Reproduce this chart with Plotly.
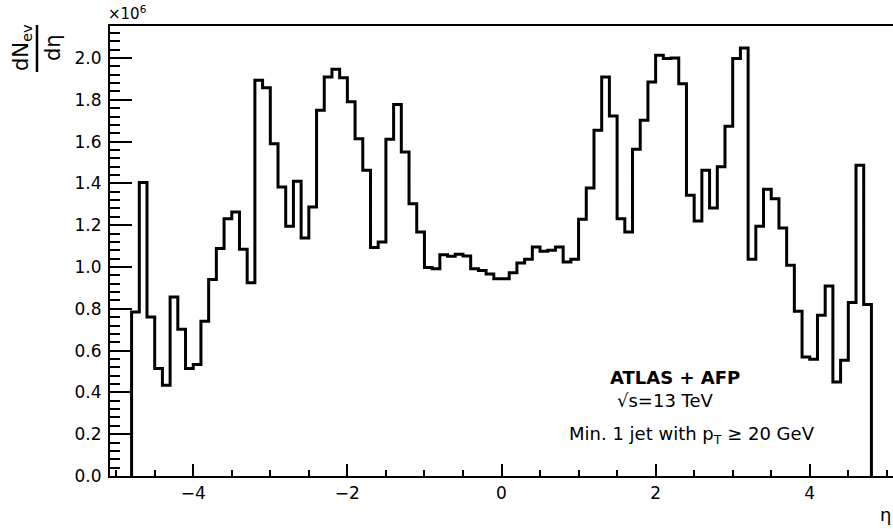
import numpy as np
import plotly.graph_objects as go

# --- data: dN_ev/deta in units of 1e6, 96 bins of width 0.1 from eta=-4.8 to 4.8
eta_low = -4.8
bin_width = 0.1
counts_1e6 = [
    0.785, 1.404, 0.761, 0.514, 0.434, 0.857, 0.702, 0.514, 0.533, 0.740,
    0.940, 1.088, 1.231, 1.263, 1.085, 0.925, 1.893, 1.858, 1.590, 1.383,
    1.195, 1.410, 1.139, 1.287, 1.750, 1.909, 1.946, 1.906, 1.790, 1.614,
    1.463, 1.093, 1.120, 1.611, 1.778, 1.550, 1.303, 1.168, 0.997, 0.992,
    1.059, 1.051, 1.061, 1.053, 0.992, 0.983, 0.967, 0.944, 0.944, 0.973,
    1.019, 1.037, 1.096, 1.075, 1.080, 1.096, 1.024, 1.037, 1.228, 1.378,
    1.654, 1.909, 1.722, 1.231, 1.168, 1.563, 1.702, 1.885, 2.013, 1.997,
    2.000, 1.877, 1.343, 1.220, 1.463, 1.282, 1.479, 1.673, 1.997, 2.048,
    1.037, 1.195, 1.372, 1.327, 1.187, 1.008, 0.788, 0.569, 0.558, 0.769,
    0.909, 0.450, 0.554, 0.830, 1.487, 0.820,
]
x_tick_vals = [-4, -2, 0, 2, 4]
y_tick_vals = [0.0, 0.2, 0.4, 0.6, 0.8, 1.0, 1.2, 1.4, 1.6, 1.8, 2.0]
label_lines = ["<b>ATLAS + AFP</b>", "√s=13 TeV", "Min. 1 jet with p<sub>T</sub> ≥ 20 GeV"]

n = len(counts_1e6)
edges = eta_low + bin_width * np.arange(n + 1)
xs = [edges[0]] + list(edges[:-1]) + [edges[-1], edges[-1]]
ys = [0.0] + list(counts_1e6) + [counts_1e6[-1], 0.0]

W, H = 893, 529
L, R, T, B = 110, 0, 26, 53
pw, ph = W - L - R, H - T - B

def px(x):
    return (x - L) / pw

def py(y):
    return (H - B - y) / ph

FONT = "DejaVu Sans"

fig = go.Figure()
fig.add_trace(go.Scatter(
    x=xs, y=ys, mode="lines", line=dict(shape="hv", color="black", width=3),
    showlegend=False, hoverinfo="skip",
))

fig.update_layout(
    width=W, height=H,
    margin=dict(l=L, r=R, t=T, b=B, pad=0),
    paper_bgcolor="white", plot_bgcolor="white",
    font=dict(family=FONT, color="black", size=17),
    xaxis=dict(
        range=[-5.08, 5.08], tickvals=x_tick_vals, ticktext=[str(v).replace("-", "−") for v in x_tick_vals],
        ticks="inside", ticklen=12, tickwidth=2, tickcolor="black",
        minor=dict(dtick=0.5, tick0=0, ticks="inside", ticklen=6, tickwidth=2, tickcolor="black"),
        showline=True, linewidth=2, linecolor="black", mirror=True,
        showgrid=False, zeroline=False, ticklabelstandoff=1,
        tickfont=dict(family=FONT, size=17),
    ),
    yaxis=dict(
        range=[0, 2.153], tickvals=y_tick_vals, ticktext=[f"{v:.1f}" for v in y_tick_vals],
        ticks="inside", ticklen=22, tickwidth=2, tickcolor="black",
        minor=dict(dtick=0.04, tick0=0, ticks="inside", ticklen=10, tickwidth=2, tickcolor="black"),
        showline=True, linewidth=2, linecolor="black", mirror=False,
        showgrid=False, zeroline=False, ticklabelstandoff=3,
        tickfont=dict(family=FONT, size=17),
    ),
)

annos = []
# x10^6 exponent
annos.append(dict(xref="paper", yref="paper", x=px(106), y=py(25), xanchor="left", yanchor="bottom",
                  text="×10<sup>6</sup>", showarrow=False, font=dict(family=FONT, size=15)))
# eta axis title
annos.append(dict(xref="paper", yref="paper", x=px(893), y=py(514), xanchor="right", yanchor="middle",
                  text="η", showarrow=False, font=dict(family=FONT, size=18)))
# y title fraction
annos.append(dict(xref="paper", yref="paper", x=px(22), y=py(48), xanchor="center", yanchor="middle",
                  text="dN<sub>ev</sub>", textangle=-90, showarrow=False, font=dict(family=FONT, size=21)))
annos.append(dict(xref="paper", yref="paper", x=px(53), y=py(48), xanchor="center", yanchor="middle",
                  text="dη", textangle=-90, showarrow=False, font=dict(family=FONT, size=21)))
# labels
centers = [(675, 377), (665, 400), (692, 435)]
for (cx, cy), t in zip(centers, label_lines):
    annos.append(dict(xref="paper", yref="paper", x=px(cx), y=py(cy), xanchor="center", yanchor="middle",
                      text=t, showarrow=False, font=dict(family=FONT, size=18)))
fig.update_layout(annotations=annos)

fig.add_shape(type="line", xref="paper", yref="paper", x0=px(37), x1=px(37), y0=py(25), y1=py(72),
              line=dict(color="black", width=2.5))

fig.write_html("out.html")
